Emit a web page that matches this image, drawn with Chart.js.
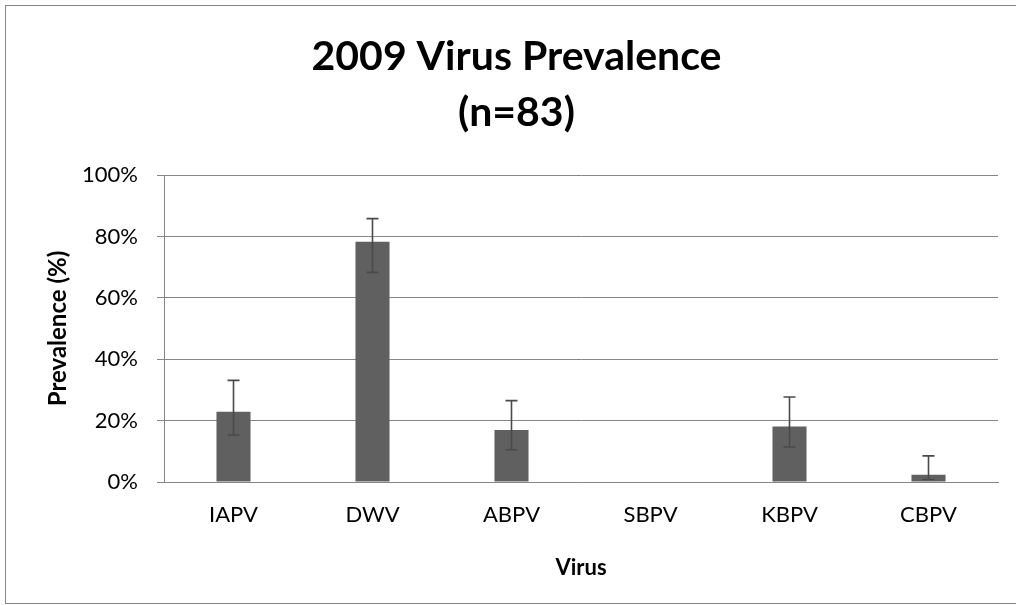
<!DOCTYPE html>
<html>
<head>
<meta charset="utf-8">
<script src="https://cdn.jsdelivr.net/npm/chart.js@4/dist/chart.umd.min.js"></script>
<style>
  html, body { margin: 0; padding: 0; background: #fff; overflow: hidden; }
  #wrap { position: relative; width: 1016px; height: 605px; }
  #frame { position: absolute; left: 5px; top: 5px; width: 1030px; height: 597px; border: 1px solid #868686; pointer-events: none; }
</style>
</head>
<body>
<div id="wrap">
  <canvas id="chart" width="1016" height="605"></canvas>
  <div id="frame"></div>
</div>
<script>
// ====== data ======
const viruses = ["IAPV", "DWV", "ABPV", "SBPV", "KBPV", "CBPV"];
const prevalence = [22.9, 78.3, 16.9, 0, 18.1, 2.4];
const errLow  = [15.3, 68.3, 10.5, null, 11.4, 0.8];
const errHigh = [33.1, 85.8, 26.5, null, 27.7, 8.5];
const yTicks = [0, 20, 40, 60, 80, 100];

const FONT = "Lato, 'Open Sans', sans-serif";

// 誤差線：用 scale 換算位置
const errorBars = {
  id: "errorBars",
  afterDatasetsDraw(chart) {
    const { ctx, scales: { y } } = chart;
    const meta = chart.getDatasetMeta(0);
    ctx.save();
    ctx.strokeStyle = "#4a4a4a";
    ctx.lineWidth = 1.6;
    meta.data.forEach((bar, i) => {
      if (errLow[i] == null || errHigh[i] == null) return;
      const yl = y.getPixelForValue(errLow[i]);
      const yh = y.getPixelForValue(errHigh[i]);
      const x = bar.x;
      ctx.beginPath();
      ctx.moveTo(x, yl); ctx.lineTo(x, yh);
      ctx.moveTo(x - 6, yh); ctx.lineTo(x + 6, yh);
      ctx.moveTo(x - 6, yl); ctx.lineTo(x + 6, yl);
      ctx.stroke();
    });
    ctx.restore();
  }
};

new Chart(document.getElementById("chart"), {
  type: "bar",
  data: {
    labels: viruses,
    datasets: [{
      label: "Prevalence",
      data: prevalence,
      backgroundColor: "#606060",
      borderWidth: 0,
      categoryPercentage: 1,
      barPercentage: 0.245
    }]
  },
  plugins: [errorBars],
  options: {
    responsive: false,
    animation: false,
    layout: { padding: { left: 35, right: 18, top: 0, bottom: 0 } },
    plugins: {
      legend: { display: false },
      tooltip: { enabled: false },
      title: {
        display: true,
        text: ["2009 Virus Prevalence", "(n=83)"],
        color: "#000",
        font: { family: FONT, size: 41, weight: "bold", lineHeight: 1.366 },
        padding: { top: 29, bottom: 34 }
      }
    },
    scales: {
      x: {
        grid: { display: false, drawTicks: false, tickLength: 0 },
        border: { display: true, color: "#868686", width: 1 },
        ticks: { color: "#000", font: { family: FONT, size: 22 }, padding: 20 },
        title: {
          display: true, text: "Virus", color: "#000",
          font: { family: FONT, size: 22, weight: "bold" },
          padding: { top: 0, bottom: 24 }
        },
        afterFit: (s) => { s.height = 123; }
      },
      y: {
        min: 0, max: 100,
        afterBuildTicks: (s) => { s.ticks = yTicks.map(v => ({ value: v })); },
        grid: { color: "#868686", lineWidth: 1, drawTicks: true, tickLength: 7 },
        border: { display: true, color: "#868686", width: 1 },
        ticks: {
          color: "#000", font: { family: FONT, size: 22 }, padding: 19,
          callback: (v) => v + "%"
        },
        title: {
          display: true, text: "Prevalence (%)", color: "#000",
          font: { family: FONT, size: 24, weight: "bold" },
          padding: { top: 9, bottom: 0 }
        },
        afterFit: (s) => { s.width = 129; }
      }
    }
  }
});
</script>
</body>
</html>
